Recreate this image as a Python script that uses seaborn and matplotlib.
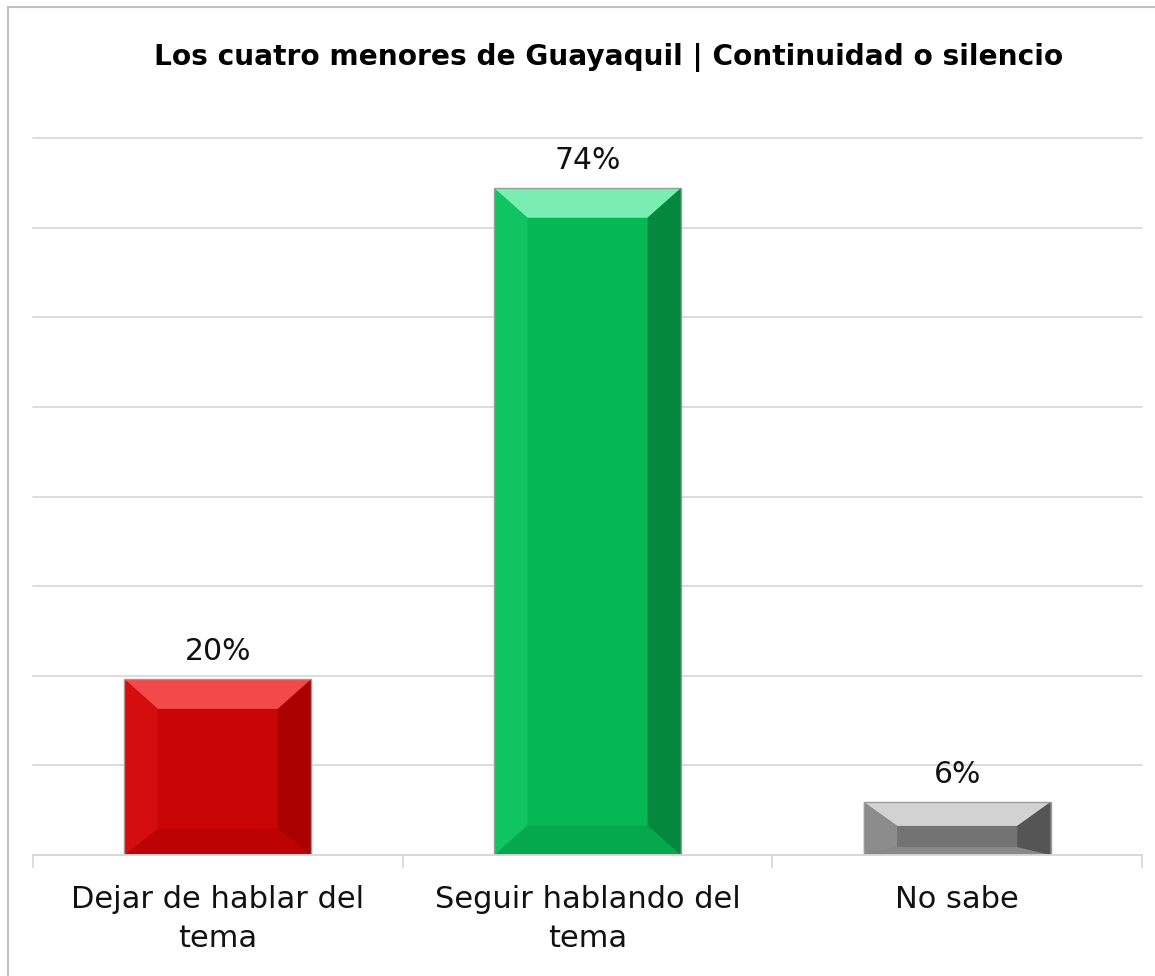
import numpy as np
import pandas as pd
import matplotlib
matplotlib.use('Agg')
import matplotlib.pyplot as plt
from matplotlib.patches import Polygon, Rectangle
import seaborn as sns

categories = ['Dejar de hablar del\ntema', 'Seguir hablando del\ntema', 'No sabe']
values = [19.6, 74.4, 5.9]
value_labels = ['20%', '74%', '6%']

# base, top bevel, bottom bevel, left bevel, right bevel
bar_colors = ['#C80404', '#06B853', '#737373']
bevel_colors = [
    ['#F24A4A', '#BC0202', '#D40E0E', '#AA0000'],
    ['#7CEDB2', '#05A84C', '#10C462', '#04883F'],
    ['#D2D2D2', '#8A8A8A', '#8C8C8C', '#555555'],
]

df = pd.DataFrame({'cat': categories, 'val': values})

sns.set_style('white')
plt.rcParams['font.family'] = ['DejaVu Sans']

fig = plt.figure(figsize=(11.55, 9.76), dpi=100)
ax = fig.add_axes([33 / 1155, 121 / 976, 1109 / 1155, 717 / 976])

sns.barplot(data=df, x='cat', y='val', hue='cat', palette=bar_colors,
            width=0.505, legend=False, ax=ax, saturation=1)

ax.set_ylim(0, 80)
ax.set_xlim(-0.5, 2.5)
ax.set_yticks(np.arange(0, 81, 10))
ax.yaxis.grid(True, color='#D9D9D9', linewidth=1.3)
for gl in ax.get_ygridlines():
    gl.set_clip_on(False)
ax.set_axisbelow(True)
for s in ['top', 'right', 'left']:
    ax.spines[s].set_visible(False)
ax.spines['bottom'].set_color('#D9D9D9')
ax.spines['bottom'].set_linewidth(1.3)
ax.tick_params(axis='y', left=False, labelleft=False)
ax.set_xticks([0, 1, 2])
ax.set_xticklabels(categories, fontsize=22, color='#111111', linespacing=1.45)
ax.tick_params(axis='x', bottom=False, pad=18)
ax.set_xticks([-0.5, 0.5, 1.5, 2.5], minor=True)
ax.tick_params(axis='x', which='minor', bottom=True, length=9, width=1.3,
               color='#D9D9D9')
ax.set_xlabel('')
ax.set_ylabel('')

# bevel effect on each bar
hb = 0.09
for p, cols, lab in zip(ax.patches, bevel_colors, value_labels):
    x0 = p.get_x()
    x1 = x0 + p.get_width()
    y0 = 0
    y1 = p.get_height()
    vt = min(3.3, y1 * 0.45)
    vb = min(3.3, y1 * 0.15)
    top, bot, left, right = cols
    ax.add_patch(Polygon([(x0, y1), (x1, y1), (x1 - hb, y1 - vt), (x0 + hb, y1 - vt)],
                         closed=True, facecolor=top, edgecolor='none'))
    ax.add_patch(Polygon([(x0, y0), (x1, y0), (x1 - hb, y0 + vb), (x0 + hb, y0 + vb)],
                         closed=True, facecolor=bot, edgecolor='none'))
    ax.add_patch(Polygon([(x0, y0), (x0 + hb, y0 + vb), (x0 + hb, y1 - vt), (x0, y1)],
                         closed=True, facecolor=left, edgecolor='none'))
    ax.add_patch(Polygon([(x1, y0), (x1 - hb, y0 + vb), (x1 - hb, y1 - vt), (x1, y1)],
                         closed=True, facecolor=right, edgecolor='none'))
    ax.add_patch(Rectangle((x0, y0), x1 - x0, y1, fill=False,
                           edgecolor='#9A9A9A', linewidth=1))
    ax.text(p.get_x() + p.get_width() / 2, y1 + 1.5, lab, ha='center',
            va='bottom', fontsize=21.5, color='#111111')

fig.text(609 / 1155, 1 - 58 / 976,
         'Los cuatro menores de Guayaquil | Continuidad o silencio',
         ha='center', va='center', fontsize=20.2, fontweight='bold', color='black')

# chart frame
fig.patches.append(Rectangle((8 / 1155, -0.05), 1.2, 1 - 7 / 976 + 0.05,
                             transform=fig.transFigure, fill=False,
                             edgecolor='#BFBFBF', linewidth=1.5))

fig.savefig('out.png', dpi=100)
